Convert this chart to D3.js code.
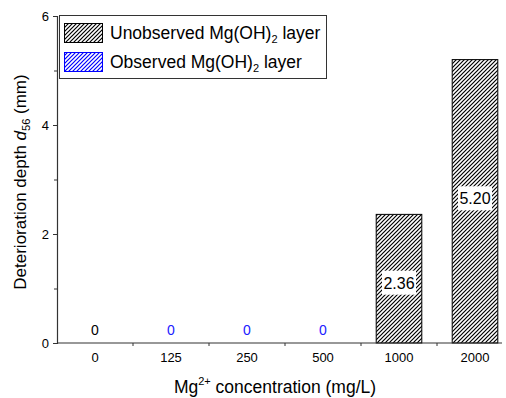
<!DOCTYPE html>
<html>
<head>
<meta charset="utf-8">
<script src="https://cdn.jsdelivr.net/npm/d3@7"></script>
<style>
  body { margin: 0; background: #fff; }
  text { font-family: "Liberation Sans", Arial, sans-serif; }
</style>
</head>
<body>
<div id="chart"></div>
<script>
// data
const categories = ["0", "125", "250", "500", "1000", "2000"];
const depths = [0, 0, 0, 0, 2.36, 5.20];
const observed = [false, true, true, true, false, false];
const valueLabels = ["0", "0", "0", "0", "2.36", "5.20"];
const majorTicks = [0, 2, 4, 6];
const minorTicks = [1, 3, 5];

const W = 506, H = 398;
const plotLeft = 57, plotBottom = 343, plotTop = 16;

const svg = d3.select("#chart").append("svg")
  .attr("width", W).attr("height", H);

const defs = svg.append("defs");
function hatch(id, color) {
  const p = defs.append("pattern")
    .attr("id", id)
    .attr("patternUnits", "userSpaceOnUse")
    .attr("width", 4).attr("height", 4);
  p.append("rect").attr("width", 4).attr("height", 4).attr("fill", "#fff");
  p.append("path")
    .attr("d", "M-1,1 l2,-2 M0,4 l4,-4 M3,5 l2,-2")
    .attr("stroke", color).attr("stroke-width", 1.2);
}
hatch("hatchBlack", "#000");
hatch("hatchBlue", "#0000ff");

const x = d3.scaleBand().domain(categories).range([plotLeft, 513])
  .paddingInner(0.4).paddingOuter(0.2);
const y = d3.scaleLinear().domain([0, 6]).range([plotBottom, plotTop]);

const data = categories.map((c, i) => ({ cat: c, v: depths[i], obs: observed[i], label: valueLabels[i] }));

// bars
svg.append("g").selectAll("rect")
  .data(data.filter(d => d.v > 0))
  .join("rect")
  .attr("x", d => x(d.cat))
  .attr("width", x.bandwidth())
  .attr("y", d => y(d.v))
  .attr("height", d => y(0) - y(d.v))
  .attr("fill", d => d.obs ? "url(#hatchBlue)" : "url(#hatchBlack)")
  .attr("stroke", "#000").attr("stroke-width", 1);

// value labels
const lab = svg.append("g");
data.forEach(d => {
  const cx = x(d.cat) + x.bandwidth() / 2;
  if (d.v > 0) {
    const cy = y(d.v / 2) + (d.v < 3 ? 4 : -3);
    lab.append("rect")
      .attr("x", cx - 17).attr("y", cy - 12)
      .attr("width", 34).attr("height", 24)
      .attr("fill", "#fff");
    lab.append("text")
      .attr("x", cx).attr("y", cy + 6)
      .attr("text-anchor", "middle")
      .attr("font-size", 16)
      .text(d.label);
  } else {
    lab.append("text")
      .attr("x", cx).attr("y", 335)
      .attr("text-anchor", "middle")
      .attr("font-size", 14)
      .attr("fill", d.obs ? "#2020ff" : "#000")
      .text(d.label);
  }
});

// y axis
const yAxis = svg.append("g").attr("transform", `translate(${plotLeft},0)`)
  .call(d3.axisLeft(y).tickValues(majorTicks).tickSize(4).tickPadding(4).tickFormat(d3.format("d")));
svg.append("g").attr("transform", `translate(${plotLeft},0)`)
  .call(d3.axisLeft(y).tickValues(minorTicks).tickSize(3).tickFormat(""))
  .call(g => g.select(".domain").remove());

// x axis
svg.append("g").attr("transform", `translate(0,${plotBottom})`)
  .call(d3.axisBottom(x).tickSize(0).tickPadding(10))
  .call(g => g.select(".domain").remove());
const gap = (x.step() - x.bandwidth()) / 2;
svg.append("g").selectAll("line")
  .data(categories.slice(0, -1))
  .join("line")
  .attr("x1", d => x(d) + x.bandwidth() + gap)
  .attr("x2", d => x(d) + x.bandwidth() + gap)
  .attr("y1", plotBottom).attr("y2", plotBottom + 3)
  .attr("stroke", "#333");
svg.append("line")
  .attr("x1", plotLeft).attr("x2", 502)
  .attr("y1", plotBottom).attr("y2", plotBottom)
  .attr("stroke", "#333").attr("stroke-width", 1.2);

svg.selectAll(".tick text").attr("font-size", 13).attr("fill", "#000")
  .style("font-family", "'Liberation Sans', Arial, sans-serif");
svg.selectAll(".tick line").attr("stroke", "#333");
yAxis.select(".domain").attr("stroke", "#333").attr("stroke-width", 1.2);

// axis titles
const xt = svg.append("text")
  .attr("x", 275).attr("y", 393)
  .attr("text-anchor", "middle").attr("font-size", 17.5);
xt.append("tspan").text("Mg");
xt.append("tspan").attr("font-size", 11).attr("dy", -8).text("2+");
xt.append("tspan").attr("dy", 8).text(" concentration (mg/L)");

const yt = svg.append("text")
  .attr("transform", "translate(26,182) rotate(-90)")
  .attr("text-anchor", "middle").attr("font-size", 17);
yt.append("tspan").text("Deterioration depth ");
yt.append("tspan").attr("font-style", "italic").text("d");
yt.append("tspan").attr("font-size", 11).attr("dy", 4).text("56");
yt.append("tspan").attr("dy", -4).text(" (mm)");

// legend
const legendItems = [
  { name: "Unobserved Mg(OH)", fill: "url(#hatchBlack)", stroke: "#000" },
  { name: "Observed Mg(OH)", fill: "url(#hatchBlue)", stroke: "#0000ff" }
];
const lg = svg.append("g");
lg.append("rect")
  .attr("x", 59.5).attr("y", 15.5)
  .attr("width", 267).attr("height", 63)
  .attr("fill", "#fff").attr("stroke", "#333");
legendItems.forEach((it, i) => {
  const yy = 23 + i * 29;
  lg.append("rect")
    .attr("x", 64.5).attr("y", yy + 0.5)
    .attr("width", 38).attr("height", 19)
    .attr("fill", it.fill).attr("stroke", it.stroke);
  const t = lg.append("text")
    .attr("x", 110).attr("y", yy + 16)
    .attr("font-size", 17.5);
  t.append("tspan").text(it.name);
  t.append("tspan").attr("font-size", 11).attr("dy", 4).text("2");
  t.append("tspan").attr("dy", -4).text(" layer");
});
</script>
</body>
</html>
